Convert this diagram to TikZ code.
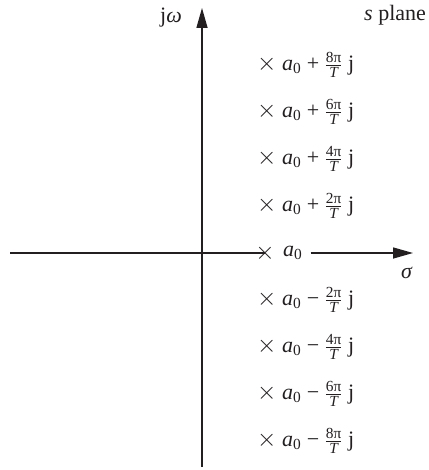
\documentclass[tikz,border=0pt]{standalone}
\usepackage{amsmath}
\usepackage{fontspec}
\setmainfont{Liberation Serif}
\usetikzlibrary{arrows.meta}
\definecolor{ink}{HTML}{231F20}
\newcommand\pfrac[1]{$\frac{\text{#1π}}{\textit{T}}$}
\newcommand\azero{$\textit{a}_{\text{0}}$}
\newcommand\cx{{\fontsize{25}{25}\selectfont$\times$}}
\begin{document}
\begin{tikzpicture}[x=1pt,y=-1pt,
  axis/.style={draw=ink,line width=1.5pt},
  tip/.style={-{Triangle[length=20pt,width=11pt]}},
  lbl/.style={font=\fontsize{22}{26}\selectfont,text=ink,inner sep=0pt,anchor=west},
  cross/.style={font=\fontsize{22}{26}\selectfont,text=ink,inner sep=0pt}]
\useasboundingbox (0,0) rectangle (428,470);
% axes
\coordinate (vb) at (202,467);
\coordinate (vt) at (202,8);
\coordinate (hl) at (10,253);
\coordinate (hr) at (413,253);
\draw[axis,tip] (vb) -- (vt);
% poles
\node[cross] (x0) at (265,253) {\cx};
\node[lbl,fill=white,inner xsep=2pt] (a0) at (281,253) {\azero};
\draw[axis] (hl) -- (x0.center);
\draw[axis,tip] ([xshift=6pt]a0.east) -- (hr);
\foreach \k/\n in {1/2,2/4,3/6,4/8}{
  \node[lbl] (p\n) at (257,253-47*\k) {\cx{} \azero{} + \pfrac{\n} j};
  \node[lbl] (m\n) at (257,253+47*\k) {\cx{} \azero{} − \pfrac{\n} j};
}
\node[lbl] (jw) at (160,18) {j\textit{ω}};
\node[lbl] (sp) at (364,15) {\textit{s} plane};
\node[lbl] (sg) at (401,273) {\textit{σ}};
\end{tikzpicture}
\end{document}
